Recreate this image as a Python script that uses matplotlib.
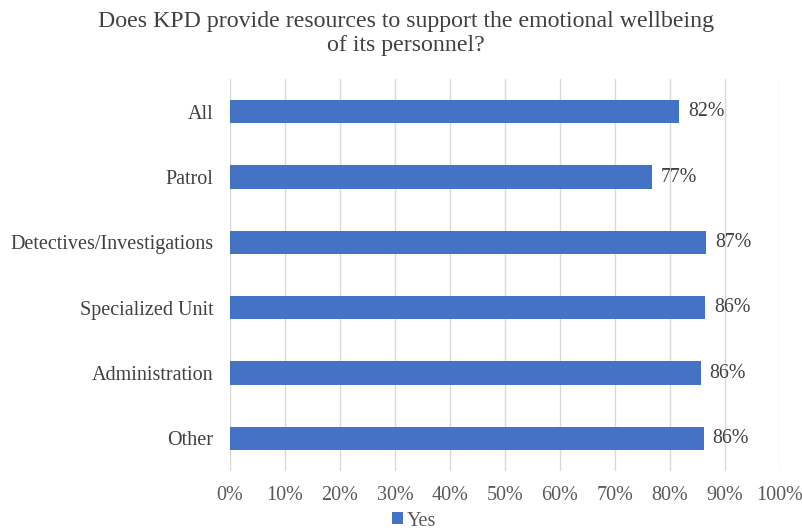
import matplotlib
matplotlib.use("Agg")
import matplotlib.pyplot as plt
from matplotlib.ticker import MultipleLocator, FuncFormatter

categories = ["All", "Patrol", "Detectives/Investigations", "Specialized Unit", "Administration", "Other"]
values = [81.7, 76.7, 86.6, 86.4, 85.6, 86.1]
labels = ["82%", "77%", "87%", "86%", "86%", "86%"]

plt.rcParams['font.family'] = ['Liberation Serif', 'DejaVu Serif']

fig = plt.figure(figsize=(8.02, 5.31), dpi=100)
ax = fig.add_axes([230/802, 1-471/531, 550/802, 392/531])

y = list(range(len(categories)))
bars = ax.barh(y, values, height=0.355, color="#4472C4", zorder=3, label="Yes")
ax.set_ylim(len(categories)-0.5, -0.5)
ax.set_xlim(0, 100)
ax.set_yticks(y)
ax.set_yticklabels(categories, fontsize=14.5, color="#404040")
ax.xaxis.set_major_locator(MultipleLocator(10))
ax.xaxis.set_major_formatter(FuncFormatter(lambda v, p: f"{int(round(v))}%"))
for t in ax.get_xticklabels():
    t.set_fontsize(14.5)
    t.set_color("#595959")
ax.tick_params(axis="y", length=0, pad=12)
ax.tick_params(axis="x", length=0, pad=11)
ax.grid(axis="x", color="#D9D9D9", linewidth=1, zorder=0)
for s in ax.spines.values():
    s.set_visible(False)

for b, lab in zip(bars, labels):
    ax.text(b.get_width() + 1.6, b.get_y() + b.get_height()/2, lab,
            va="center", ha="left", fontsize=14.3, color="#404040")

fig.text(406/802, 1-22/531, "Does KPD provide resources to support the emotional wellbeing",
         ha="center", va="center", fontsize=17.2, color="#404040")
fig.text(406/802, 1-45/531, "of its personnel?",
         ha="center", va="center", fontsize=17.2, color="#404040")

leg = fig.legend(loc="center", bbox_to_anchor=(414/802, 1-521/531), frameon=False,
                 fontsize=14.5, handlelength=0.55, handleheight=0.55, handletextpad=0.2)
for t in leg.get_texts():
    t.set_color("#595959")

fig.savefig("out.png", dpi=100)
